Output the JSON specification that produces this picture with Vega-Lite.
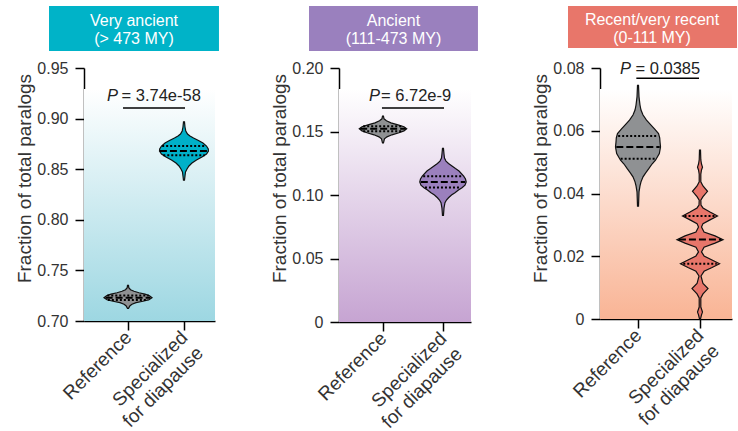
{
 "$schema": "https://vega.github.io/schema/vega-lite/v6.json",
 "padding": {"left": 15, "top": 5, "right": 0, "bottom": 0},
 "config": {
  "font": "Liberation Sans",
  "view": {"stroke": null},
  "axis": {"domainColor": "#000", "domainWidth": 1.5, "tickColor": "#000", "tickWidth": 1.5, "tickSize": 9, "labelColor": "#333", "titleColor": "#333", "titleFontWeight": "normal", "grid": false},
  "axisY": {"labelFontSize": 16, "labelPadding": 7, "titleFontSize": 19, "titleY": 110, "titlePadding": 2},
  "axisX": {"labelFontSize": 19, "labelAngle": -45, "labelAlign": "right", "labelBaseline": "middle", "labelLineHeight": 22, "labelPadding": 4}
 },
 "datasets": {
  "v1": [
   {"g":"Reference","v":0.7353,"w":0.009},{"g":"Reference","v":0.7329,"w":0.014},{"g":"Reference","v":0.7309,"w":0.045},{"g":"Reference","v":0.7294,"w":0.107},{"g":"Reference","v":0.7279,"w":0.196},{"g":"Reference","v":0.7265,"w":0.304},{"g":"Reference","v":0.7250,"w":0.384},{"g":"Reference","v":0.7230,"w":0.429},{"g":"Reference","v":0.7210,"w":0.375},{"g":"Reference","v":0.7195,"w":0.268},{"g":"Reference","v":0.7181,"w":0.143},{"g":"Reference","v":0.7166,"w":0.071},{"g":"Reference","v":0.7151,"w":0.036},{"g":"Reference","v":0.7125,"w":0.009},
   {"g":"Specialized","v":0.8967,"w":0.009},{"g":"Specialized","v":0.8917,"w":0.018},{"g":"Specialized","v":0.8878,"w":0.032},{"g":"Specialized","v":0.8848,"w":0.0625},{"g":"Specialized","v":0.8828,"w":0.107},{"g":"Specialized","v":0.8808,"w":0.170},{"g":"Specialized","v":0.8784,"w":0.259},{"g":"Specialized","v":0.8759,"w":0.339},{"g":"Specialized","v":0.8729,"w":0.402},{"g":"Specialized","v":0.8700,"w":0.434},{"g":"Specialized","v":0.8680,"w":0.4375},{"g":"Specialized","v":0.8650,"w":0.402},{"g":"Specialized","v":0.8621,"w":0.321},{"g":"Specialized","v":0.8591,"w":0.223},{"g":"Specialized","v":0.8561,"w":0.143},{"g":"Specialized","v":0.8532,"w":0.089},{"g":"Specialized","v":0.8502,"w":0.054},{"g":"Specialized","v":0.8473,"w":0.027},{"g":"Specialized","v":0.8433,"w":0.018},{"g":"Specialized","v":0.8393,"w":0.009}
  ],
  "q1": [
   {"g":"Reference","v":0.7230,"w":0.40,"k":"m"},{"g":"Reference","v":0.7252,"w":0.37,"k":"q"},{"g":"Reference","v":0.7208,"w":0.36,"k":"q"},
   {"g":"Specialized","v":0.8680,"w":0.43,"k":"m"},{"g":"Specialized","v":0.8729,"w":0.39,"k":"q"},{"g":"Specialized","v":0.8638,"w":0.37,"k":"q"}
  ],
  "v2": [
   {"g":"Reference","v":0.1621,"w":0.008},{"g":"Reference","v":0.1600,"w":0.017},{"g":"Reference","v":0.1584,"w":0.058},{"g":"Reference","v":0.1568,"w":0.133},{"g":"Reference","v":0.1552,"w":0.25},{"g":"Reference","v":0.1537,"w":0.35},{"g":"Reference","v":0.1521,"w":0.395},{"g":"Reference","v":0.1505,"w":0.35},{"g":"Reference","v":0.1490,"w":0.267},{"g":"Reference","v":0.1474,"w":0.15},{"g":"Reference","v":0.1458,"w":0.067},{"g":"Reference","v":0.1442,"w":0.025},{"g":"Reference","v":0.1411,"w":0.008},
   {"g":"Specialized","v":0.1367,"w":0.008},{"g":"Specialized","v":0.1322,"w":0.017},{"g":"Specialized","v":0.1291,"w":0.025},{"g":"Specialized","v":0.1267,"w":0.05},{"g":"Specialized","v":0.1248,"w":0.092},{"g":"Specialized","v":0.1228,"w":0.15},{"g":"Specialized","v":0.1208,"w":0.208},{"g":"Specialized","v":0.1189,"w":0.267},{"g":"Specialized","v":0.1149,"w":0.345},{"g":"Specialized","v":0.1126,"w":0.375},{"g":"Specialized","v":0.1102,"w":0.387},{"g":"Specialized","v":0.1078,"w":0.367},{"g":"Specialized","v":0.1057,"w":0.317},{"g":"Specialized","v":0.1039,"w":0.258},{"g":"Specialized","v":0.1018,"w":0.2},{"g":"Specialized","v":0.1000,"w":0.142},{"g":"Specialized","v":0.0978,"w":0.092},{"g":"Specialized","v":0.0960,"w":0.058},{"g":"Specialized","v":0.0939,"w":0.033},{"g":"Specialized","v":0.0897,"w":0.017},{"g":"Specialized","v":0.0840,"w":0.008}
  ],
  "q2": [
   {"g":"Reference","v":0.1521,"w":0.38,"k":"m"},{"g":"Reference","v":0.1541,"w":0.33,"k":"q"},{"g":"Reference","v":0.1501,"w":0.33,"k":"q"},
   {"g":"Specialized","v":0.1102,"w":0.37,"k":"m"},{"g":"Specialized","v":0.1147,"w":0.33,"k":"q"},{"g":"Specialized","v":0.1060,"w":0.30,"k":"q"}
  ],
  "v3": [
   {"g":"Reference","v":0.0745,"w":0.008},{"g":"Reference","v":0.0708,"w":0.016},{"g":"Reference","v":0.0682,"w":0.032},{"g":"Reference","v":0.0666,"w":0.048},{"g":"Reference","v":0.0650,"w":0.081},{"g":"Reference","v":0.0634,"w":0.137},{"g":"Reference","v":0.0618,"w":0.21},{"g":"Reference","v":0.0606,"w":0.266},{"g":"Reference","v":0.0591,"w":0.331},{"g":"Reference","v":0.0577,"w":0.35},{"g":"Reference","v":0.0564,"w":0.355},{"g":"Reference","v":0.0548,"w":0.363},{"g":"Reference","v":0.0527,"w":0.344},{"g":"Reference","v":0.0506,"w":0.282},{"g":"Reference","v":0.0494,"w":0.226},{"g":"Reference","v":0.0479,"w":0.174},{"g":"Reference","v":0.0465,"w":0.121},{"g":"Reference","v":0.0453,"w":0.081},{"g":"Reference","v":0.0437,"w":0.048},{"g":"Reference","v":0.0424,"w":0.032},{"g":"Reference","v":0.0405,"w":0.016},{"g":"Reference","v":0.0360,"w":0.008},
   {"g":"Specialized","v":0.0538,"w":0.008},{"g":"Specialized","v":0.0507,"w":0.013},{"g":"Specialized","v":0.0494,"w":0.024},{"g":"Specialized","v":0.0484,"w":0.04},{"g":"Specialized","v":0.0475,"w":0.024},{"g":"Specialized","v":0.0462,"w":0.013},{"g":"Specialized","v":0.0437,"w":0.013},{"g":"Specialized","v":0.0424,"w":0.048},{"g":"Specialized","v":0.0407,"w":0.121},{"g":"Specialized","v":0.0390,"w":0.048},{"g":"Specialized","v":0.0379,"w":0.013},{"g":"Specialized","v":0.0363,"w":0.016},{"g":"Specialized","v":0.0354,"w":0.048},{"g":"Specialized","v":0.0341,"w":0.161},{"g":"Specialized","v":0.0328,"w":0.282},{"g":"Specialized","v":0.0316,"w":0.161},{"g":"Specialized","v":0.0304,"w":0.048},{"g":"Specialized","v":0.0293,"w":0.024},{"g":"Specialized","v":0.0277,"w":0.065},{"g":"Specialized","v":0.0265,"w":0.242},{"g":"Specialized","v":0.0253,"w":0.371},{"g":"Specialized","v":0.0242,"w":0.242},{"g":"Specialized","v":0.0229,"w":0.065},{"g":"Specialized","v":0.0214,"w":0.024},{"g":"Specialized","v":0.0201,"w":0.065},{"g":"Specialized","v":0.0188,"w":0.194},{"g":"Specialized","v":0.0176,"w":0.315},{"g":"Specialized","v":0.0164,"w":0.194},{"g":"Specialized","v":0.0152,"w":0.065},{"g":"Specialized","v":0.0137,"w":0.016},{"g":"Specialized","v":0.0113,"w":0.048},{"g":"Specialized","v":0.0097,"w":0.129},{"g":"Specialized","v":0.0080,"w":0.048},{"g":"Specialized","v":0.0067,"w":0.013},{"g":"Specialized","v":0.0038,"w":0.013},{"g":"Specialized","v":0.0032,"w":0.024},{"g":"Specialized","v":0.0022,"w":0.04},{"g":"Specialized","v":0.0013,"w":0.024},{"g":"Specialized","v":0.0,"w":0.008}
  ],
  "q3": [
   {"g":"Reference","v":0.0548,"w":0.35,"k":"m"},{"g":"Reference","v":0.0583,"w":0.32,"k":"q"},{"g":"Reference","v":0.0511,"w":0.28,"k":"q"},
   {"g":"Specialized","v":0.0253,"w":0.34,"k":"m"},{"g":"Specialized","v":0.0328,"w":0.25,"k":"q"},{"g":"Specialized","v":0.0176,"w":0.27,"k":"q"}
  ]
 },
 "bounds": "flush",
 "spacing": 124,
 "hconcat": [
  {
   "width": 131, "height": 253,
   "layer": [
    {"data": {"values": [{}]}, "mark": {"type": "rect", "fill": {"gradient": "linear", "x1": 0, "y1": 0, "x2": 0, "y2": 1, "stops": [{"offset": 0, "color": "#ffffff"}, {"offset": 1, "color": "#9dd7e2"}]}},
     "encoding": {"x": {"datum": -0.786, "type": "quantitative"}, "x2": {"datum": 1.554}, "y": {"datum": 0.9293, "type": "quantitative"}, "y2": {"datum": 0.70}}},
    {"data": {"values": [{}]}, "mark": {"type": "rect", "fill": "#00b3c8"},
     "encoding": {"x": {"datum": -1.411, "type": "quantitative"}, "x2": {"datum": 1.625}, "y": {"datum": 1.0113, "type": "quantitative"}, "y2": {"datum": 0.9668}}},
    {"data": {"values": [{}]}, "mark": {"type": "text", "text": "Very ancient", "fill": "#ffffff", "fontSize": 16, "align": "center", "baseline": "alphabetic"},
     "encoding": {"x": {"datum": 0.107, "type": "quantitative"}, "y": {"datum": 0.9915, "type": "quantitative"}}},
    {"data": {"values": [{}]}, "mark": {"type": "text", "text": "(> 473 MY)", "fill": "#ffffff", "fontSize": 16, "align": "center", "baseline": "alphabetic"},
     "encoding": {"x": {"datum": 0.107, "type": "quantitative"}, "y": {"datum": 0.974, "type": "quantitative"}}},
    {"data": {"values": [{}]}, "mark": {"type": "rule", "stroke": "#000", "strokeWidth": 1.5},
     "encoding": {"x": {"datum": -0.089, "type": "quantitative"}, "x2": {"datum": 1.018}, "y": {"datum": 0.9105, "type": "quantitative"}}},
    {"data": {"values": [{}]}, "mark": {"type": "text", "text": "P", "fontStyle": "italic", "fill": "#222", "fontSize": 16.5, "align": "right", "baseline": "alphabetic"},
     "encoding": {"x": {"datum": -0.179, "type": "quantitative"}, "y": {"datum": 0.9174, "type": "quantitative"}}},
    {"data": {"values": [{}]}, "mark": {"type": "text", "text": "= 3.74e-58", "fill": "#222", "fontSize": 16.5, "align": "left", "baseline": "alphabetic"},
     "encoding": {"x": {"datum": -0.116, "type": "quantitative"}, "y": {"datum": 0.9174, "type": "quantitative"}}},
    {"data": {"name": "v1"},
     "transform": [{"calculate": "(datum.g == 'Reference' ? 0 : 1) - datum.w", "as": "lo"}, {"calculate": "(datum.g == 'Reference' ? 0 : 1) + datum.w", "as": "hi"}],
     "mark": {"type": "area", "orient": "horizontal", "stroke": "#111", "strokeWidth": 1.2},
     "encoding": {
      "y": {"field": "v", "type": "quantitative", "scale": {"domain": [0.70, 0.95], "nice": false, "zero": false}, "axis": {"title": "Fraction of total paralogs", "values": [0.70, 0.75, 0.80, 0.85, 0.90, 0.95], "format": ".2f"}},
      "x": {"field": "lo", "type": "quantitative", "scale": {"domain": [-0.786, 1.554], "nice": false, "zero": false}, "axis": {"title": null, "values": [0, 1], "labelExpr": "datum.value == 0 ? 'Reference' : ['Specialized', 'for diapause']"}},
      "x2": {"field": "hi"},
      "detail": {"field": "g"},
      "fill": {"condition": {"test": "datum.g == 'Reference'", "value": "#8f9193"}, "value": "#00b0c8"}
     }},
    {"data": {"name": "q1"},
     "transform": [{"calculate": "(datum.g == 'Reference' ? 0 : 1) - datum.w", "as": "lo"}, {"calculate": "(datum.g == 'Reference' ? 0 : 1) + datum.w", "as": "hi"}],
     "mark": {"type": "rule", "stroke": "#000", "strokeWidth": 2},
     "encoding": {
      "y": {"field": "v", "type": "quantitative"},
      "x": {"field": "lo", "type": "quantitative"},
      "x2": {"field": "hi"},
      "strokeDash": {"condition": {"test": "datum.k == 'm'", "value": [7, 3]}, "value": [2, 2]}
     }}
   ]
  },
  {
   "bounds": "flush",
   "spacing": 129,
   "hconcat": [
    {
     "width": 132, "height": 254,
     "layer": [
      {"data": {"values": [{}]}, "mark": {"type": "rect", "fill": {"gradient": "linear", "x1": 0, "y1": 0, "x2": 0, "y2": 1, "stops": [{"offset": 0, "color": "#ffffff"}, {"offset": 1, "color": "#c6a4d2"}]}},
       "encoding": {"x": {"datum": -0.733, "type": "quantitative"}, "x2": {"datum": 1.467}, "y": {"datum": 0.1835, "type": "quantitative"}, "y2": {"datum": 0}}},
      {"data": {"values": [{}]}, "mark": {"type": "rect", "fill": "#9a80be"},
       "encoding": {"x": {"datum": -1.233, "type": "quantitative"}, "x2": {"datum": 1.583}, "y": {"datum": 0.2488, "type": "quantitative"}, "y2": {"datum": 0.2134}}},
      {"data": {"values": [{}]}, "mark": {"type": "text", "text": "Ancient", "fill": "#ffffff", "fontSize": 16, "align": "center", "baseline": "alphabetic"},
       "encoding": {"x": {"datum": 0.175, "type": "quantitative"}, "y": {"datum": 0.2331, "type": "quantitative"}}},
      {"data": {"values": [{}]}, "mark": {"type": "text", "text": "(111-473 MY)", "fill": "#ffffff", "fontSize": 16, "align": "center", "baseline": "alphabetic"},
       "encoding": {"x": {"datum": 0.175, "type": "quantitative"}, "y": {"datum": 0.2191, "type": "quantitative"}}},
      {"data": {"values": [{}]}, "mark": {"type": "rule", "stroke": "#000", "strokeWidth": 1.5},
       "encoding": {"x": {"datum": -0.017, "type": "quantitative"}, "x2": {"datum": 1.017}, "y": {"datum": 0.1685, "type": "quantitative"}}},
      {"data": {"values": [{}]}, "mark": {"type": "text", "text": "P", "fontStyle": "italic", "fill": "#222", "fontSize": 16.5, "align": "right", "baseline": "alphabetic"},
       "encoding": {"x": {"datum": -0.05, "type": "quantitative"}, "y": {"datum": 0.174, "type": "quantitative"}}},
      {"data": {"values": [{}]}, "mark": {"type": "text", "text": "= 6.72e-9", "fill": "#222", "fontSize": 16.5, "align": "left", "baseline": "alphabetic"},
       "encoding": {"x": {"datum": -0.033, "type": "quantitative"}, "y": {"datum": 0.174, "type": "quantitative"}}},
      {"data": {"name": "v2"},
       "transform": [{"calculate": "(datum.g == 'Reference' ? 0 : 1) - datum.w", "as": "lo"}, {"calculate": "(datum.g == 'Reference' ? 0 : 1) + datum.w", "as": "hi"}],
       "mark": {"type": "area", "orient": "horizontal", "stroke": "#111", "strokeWidth": 1.2},
       "encoding": {
        "y": {"field": "v", "type": "quantitative", "scale": {"domain": [0, 0.2], "nice": false, "zero": false}, "axis": {"title": "Fraction of total paralogs", "values": [0, 0.05, 0.10, 0.15, 0.20], "labelExpr": "datum.value == 0 ? '0' : format(datum.value, '.2f')"}},
        "x": {"field": "lo", "type": "quantitative", "scale": {"domain": [-0.733, 1.467], "nice": false, "zero": false}, "axis": {"title": null, "values": [0, 1], "labelExpr": "datum.value == 0 ? 'Reference' : ['Specialized', 'for diapause']"}},
        "x2": {"field": "hi"},
        "detail": {"field": "g"},
        "fill": {"condition": {"test": "datum.g == 'Reference'", "value": "#8f9193"}, "value": "#9b80bd"}
       }},
      {"data": {"name": "q2"},
       "transform": [{"calculate": "(datum.g == 'Reference' ? 0 : 1) - datum.w", "as": "lo"}, {"calculate": "(datum.g == 'Reference' ? 0 : 1) + datum.w", "as": "hi"}],
       "mark": {"type": "rule", "stroke": "#000", "strokeWidth": 2},
       "encoding": {
        "y": {"field": "v", "type": "quantitative"},
        "x": {"field": "lo", "type": "quantitative"},
        "x2": {"field": "hi"},
        "strokeDash": {"condition": {"test": "datum.k == 'm'", "value": [7, 3]}, "value": [2, 2]}
       }}
     ]
    },
    {
     "width": 132, "height": 251,
     "layer": [
      {"data": {"values": [{}]}, "mark": {"type": "rect", "fill": {"gradient": "linear", "x1": 0, "y1": 0, "x2": 0, "y2": 1, "stops": [{"offset": 0, "color": "#ffffff"}, {"offset": 1, "color": "#f9b495"}]}},
       "encoding": {"x": {"datum": -0.613, "type": "quantitative"}, "x2": {"datum": 1.516}, "y": {"datum": 0.0733, "type": "quantitative"}, "y2": {"datum": 0}}},
      {"data": {"values": [{}]}, "mark": {"type": "rect", "fill": "#e8766a"},
       "encoding": {"x": {"datum": -1.129, "type": "quantitative"}, "x2": {"datum": 1.597}, "y": {"datum": 0.0998, "type": "quantitative"}, "y2": {"datum": 0.0864}}},
      {"data": {"values": [{}]}, "mark": {"type": "text", "text": "Recent/very recent", "fill": "#ffffff", "fontSize": 16, "align": "center", "baseline": "alphabetic"},
       "encoding": {"x": {"datum": 0.226, "type": "quantitative"}, "y": {"datum": 0.0937, "type": "quantitative"}}},
      {"data": {"values": [{}]}, "mark": {"type": "text", "text": "(0-111 MY)", "fill": "#ffffff", "fontSize": 16, "align": "center", "baseline": "alphabetic"},
       "encoding": {"x": {"datum": 0.226, "type": "quantitative"}, "y": {"datum": 0.0881, "type": "quantitative"}}},
      {"data": {"values": [{}]}, "mark": {"type": "rule", "stroke": "#000", "strokeWidth": 1.5},
       "encoding": {"x": {"datum": -0.027, "type": "quantitative"}, "x2": {"datum": 0.984}, "y": {"datum": 0.0767, "type": "quantitative"}}},
      {"data": {"values": [{}]}, "mark": {"type": "text", "text": "P", "fontStyle": "italic", "fill": "#222", "fontSize": 16.5, "align": "right", "baseline": "alphabetic"},
       "encoding": {"x": {"datum": -0.113, "type": "quantitative"}, "y": {"datum": 0.0782, "type": "quantitative"}}},
      {"data": {"values": [{}]}, "mark": {"type": "text", "text": "= 0.0385", "fill": "#222", "fontSize": 16.5, "align": "left", "baseline": "alphabetic"},
       "encoding": {"x": {"datum": -0.04, "type": "quantitative"}, "y": {"datum": 0.0782, "type": "quantitative"}}},
      {"data": {"name": "v3"},
       "transform": [{"calculate": "(datum.g == 'Reference' ? 0 : 1) - datum.w", "as": "lo"}, {"calculate": "(datum.g == 'Reference' ? 0 : 1) + datum.w", "as": "hi"}],
       "mark": {"type": "area", "orient": "horizontal", "stroke": "#111", "strokeWidth": 1.2},
       "encoding": {
        "y": {"field": "v", "type": "quantitative", "scale": {"domain": [0, 0.08], "nice": false, "zero": false}, "axis": {"title": "Fraction of total paralogs", "values": [0, 0.02, 0.04, 0.06, 0.08], "labelExpr": "datum.value == 0 ? '0' : format(datum.value, '.2f')"}},
        "x": {"field": "lo", "type": "quantitative", "scale": {"domain": [-0.613, 1.516], "nice": false, "zero": false}, "axis": {"title": null, "values": [0, 1], "labelExpr": "datum.value == 0 ? 'Reference' : ['Specialized', 'for diapause']"}},
        "x2": {"field": "hi"},
        "detail": {"field": "g"},
        "fill": {"condition": {"test": "datum.g == 'Reference'", "value": "#8f9193"}, "value": "#e8766a"}
       }},
      {"data": {"name": "q3"},
       "transform": [{"calculate": "(datum.g == 'Reference' ? 0 : 1) - datum.w", "as": "lo"}, {"calculate": "(datum.g == 'Reference' ? 0 : 1) + datum.w", "as": "hi"}],
       "mark": {"type": "rule", "stroke": "#000", "strokeWidth": 2},
       "encoding": {
        "y": {"field": "v", "type": "quantitative"},
        "x": {"field": "lo", "type": "quantitative"},
        "x2": {"field": "hi"},
        "strokeDash": {"condition": {"test": "datum.k == 'm'", "value": [7, 3]}, "value": [2, 2]}
       }}
     ]
    }
   ]
  }
 ]
}
